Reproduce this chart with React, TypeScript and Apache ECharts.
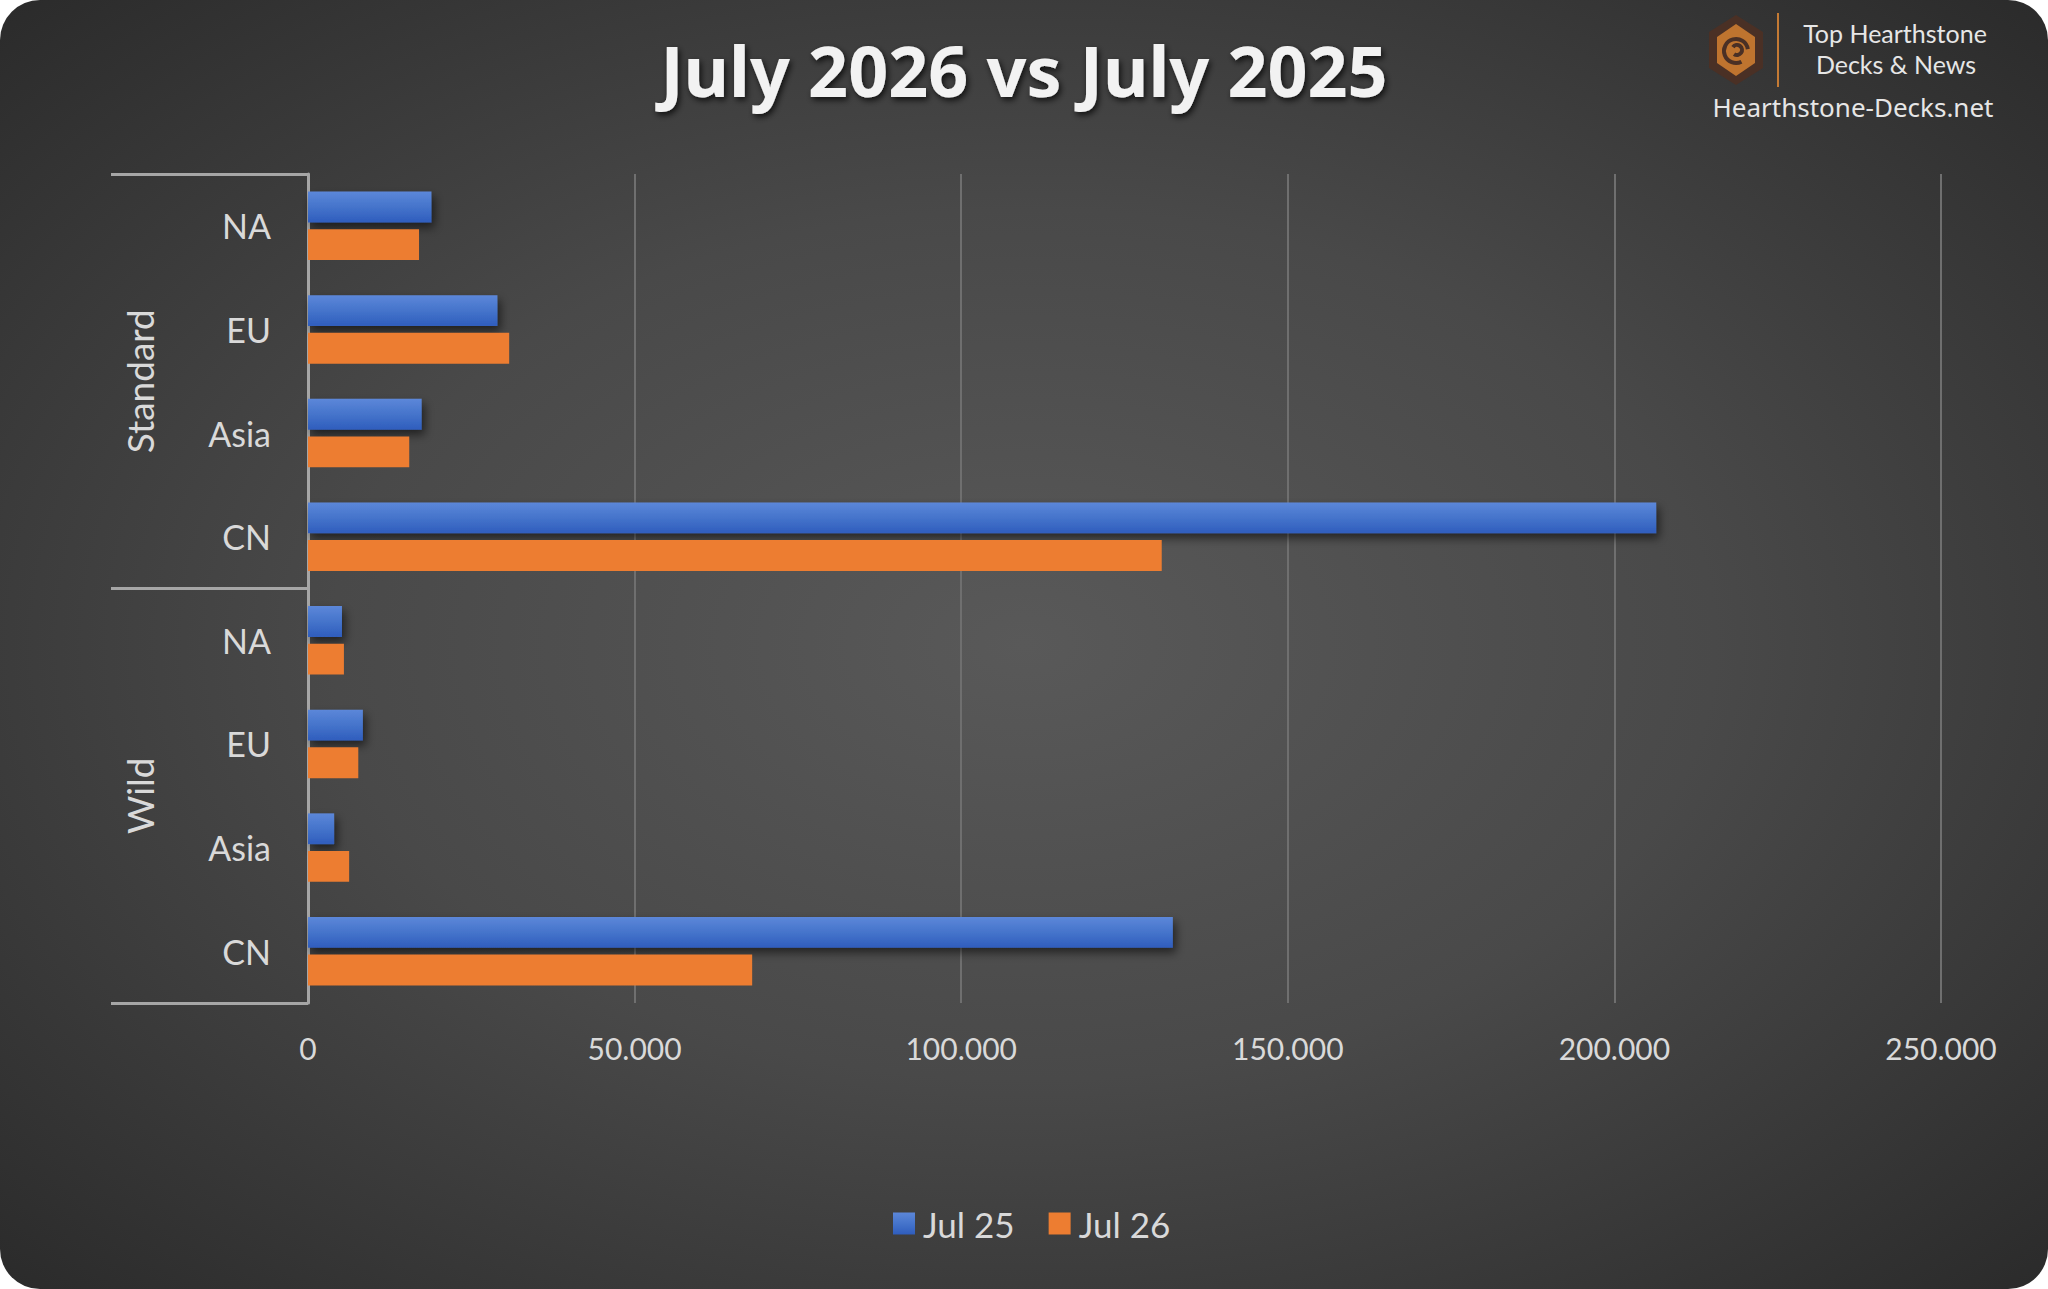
import React, { useEffect, useRef } from "react";
import * as echarts from "echarts";

const groups = ["Standard", "Wild"];
const regions = ["NA", "EU", "Asia", "CN"];
const jul25 = [18900, 29000, 17400, 206400, 5200, 8400, 4000, 132400];
const jul26 = [17000, 30800, 15500, 130700, 5500, 7700, 6300, 68000];
const seriesNames = ["Jul 25", "Jul 26"];
const xMin = 0;
const xMax = 250000;
const xStep = 50000;
const titleText = "July 2026 vs July 2025";

const W = 2048;
const H = 1289;
const FONT = "Lato, 'Noto Sans', sans-serif";
const TXT = "#d9d9d9";

function fmt(v: number): string {
  return String(v).replace(/\B(?=(\d{3})+(?!\d))/g, ".");
}

export default function App() {
  const ref = useRef<HTMLDivElement>(null);
  useEffect(() => {
    document.body.style.margin = "0";
    document.body.style.background = "#ffffff";
    if (!ref.current) return;
    const chart = echarts.init(ref.current, undefined, { renderer: "svg" });
    const categories = groups.flatMap((g) => regions.map((r) => `${g}|${r}`));

    const blue = new echarts.graphic.LinearGradient(0, 0, 0, 1, [
      { offset: 0, color: "#5c87d9" },
      { offset: 0.5, color: "#4574cb" },
      { offset: 1, color: "#2f5dbd" },
    ]);
    const orange = "#ed7d31";

    const bg = new echarts.graphic.RadialGradient(0.5, 0.5, 0.75, [
      { offset: 0, color: "#595959" },
      { offset: 0.45, color: "#494949" },
      { offset: 1, color: "#272727" },
    ]);

    const logoFont = "25px Lato, 'Noto Sans', sans-serif";

    chart.setOption({
      animation: false,
      backgroundColor: "transparent",
      title: {
        text: titleText,
        left: "center",
        top: 30,
        textStyle: {
          fontFamily: "'Noto Sans', Lato, sans-serif",
          fontWeight: "bold",
          fontSize: 70,
          color: "#f2f2f2",
          textShadowColor: "rgba(0,0,0,0.75)",
          textShadowBlur: 6,
          textShadowOffsetX: 2,
          textShadowOffsetY: 3,
        },
      },
      legend: {
        data: seriesNames,
        left: 888,
        top: 1201,
        icon: "rect",
        itemWidth: 22,
        itemHeight: 22,
        itemGap: 34,
        textStyle: { color: TXT, fontSize: 35, fontFamily: FONT, padding: [0, 0, 0, 3] },
      },
      grid: { left: 308, right: 107, top: 174, bottom: 286, containLabel: false },
      xAxis: {
        type: "value",
        min: xMin,
        max: xMax,
        interval: xStep,
        axisLine: { show: false },
        axisTick: { show: false },
        axisLabel: {
          color: TXT,
          fontSize: 30,
          fontFamily: FONT,
          margin: 30,
          formatter: (v: number) => fmt(v),
        },
        splitLine: { show: true, lineStyle: { color: "#6f6f6f", width: 2 } },
      },
      yAxis: [
        {
          type: "category",
          data: categories,
          inverse: true,
          position: "left",
          axisLine: { show: true, lineStyle: { color: "#a6a6a6", width: 3 } },
          axisTick: {
            show: true,
            length: 197,
            interval: (i: number) => i % regions.length === 0,
            lineStyle: { color: "#a6a6a6", width: 3 },
          },
          axisLabel: {
            color: TXT,
            fontSize: 34,
            fontFamily: FONT,
            margin: 37,
            interval: 0,
            formatter: (v: string) => v.split("|")[1],
          },
          splitLine: { show: false },
        },
        {
          type: "category",
          data: groups,
          inverse: true,
          position: "left",
          axisLine: { show: false },
          axisTick: { show: false },
          axisLabel: {
            color: TXT,
            fontSize: 37,
            fontFamily: FONT,
            rotate: 90,
            margin: 150,
            interval: 0,
          },
          splitLine: { show: false },
        },
      ],
      series: [
        {
          name: seriesNames[0],
          type: "bar",
          yAxisIndex: 0,
          data: jul25,
          barCategoryGap: "34%",
          barGap: "22%",
          itemStyle: {
            color: blue,
            shadowColor: "rgba(0,0,0,0.55)",
            shadowBlur: 10,
            shadowOffsetX: 3,
            shadowOffsetY: 5,
          },
        },
        {
          name: seriesNames[1],
          type: "bar",
          yAxisIndex: 0,
          data: jul26,
          barCategoryGap: "34%",
          barGap: "22%",
          itemStyle: { color: orange },
        },
      ],
      graphic: [
        {
          type: "rect",
          z: -100,
          silent: true,
          shape: { x: 0, y: 0, width: W, height: H, r: 40 },
          style: { fill: bg },
        },
        {
          type: "polygon",
          z: 10,
          shape: {
            points: [
              [1736, 15], [1763, 32], [1763, 68], [1736, 85], [1709, 68], [1709, 32],
            ],
          },
          style: { fill: "#4a3025" },
        },
        {
          type: "polygon",
          z: 11,
          shape: {
            points: [
              [1736, 24], [1755, 37], [1755, 63], [1736, 76], [1717, 63], [1717, 37],
            ],
          },
          style: { fill: "#bf742f" },
        },
        {
          type: "arc",
          z: 12,
          shape: { cx: 1736, cy: 51, r: 12, startAngle: Math.PI * 0.35, endAngle: Math.PI * 1.95 },
          style: { stroke: "#4a3025", lineWidth: 4, fill: "none" },
        },
        {
          type: "arc",
          z: 12,
          shape: { cx: 1737, cy: 50, r: 5, startAngle: Math.PI * 1.2, endAngle: Math.PI * 2.7 },
          style: { stroke: "#4a3025", lineWidth: 4, fill: "none" },
        },
        {
          type: "line",
          z: 12,
          shape: { x1: 1778, y1: 13, x2: 1778, y2: 87 },
          style: { stroke: "#c47a34", lineWidth: 2 },
        },
        {
          type: "text",
          z: 12,
          style: {
            text: "Top Hearthstone",
            x: 1895,
            y: 33,
            align: "center",
            verticalAlign: "middle",
            fill: "#e6e6e6",
            font: logoFont,
            lineHeight: 25,
          },
        },
        {
          type: "text",
          z: 12,
          style: {
            text: "Decks & News",
            x: 1896,
            y: 64,
            align: "center",
            verticalAlign: "middle",
            fill: "#e6e6e6",
            font: logoFont,
            lineHeight: 25,
          },
        },
        {
          type: "text",
          z: 12,
          style: {
            text: "Hearthstone-Decks.net",
            x: 1853,
            y: 107,
            align: "center",
            verticalAlign: "middle",
            fill: "#e6e6e6",
            font: "26px 'Noto Sans', sans-serif",
          },
        },
      ],
    });
    return () => chart.dispose();
  }, []);
  return <div ref={ref} style={{ width: W, height: H }} />;
}
